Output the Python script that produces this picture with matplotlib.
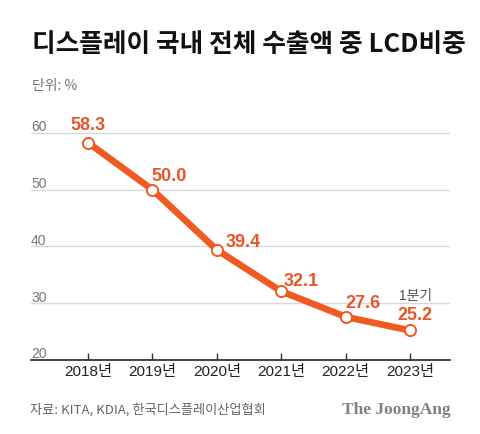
import matplotlib.pyplot as plt

plt.rcParams['font.family'] = ['Noto Sans CJK KR', 'DejaVu Sans']

years = [2018, 2019, 2020, 2021, 2022, 2023]
year_labels = ['2018년', '2019년', '2020년', '2021년', '2022년', '2023년']
lcd_share = [58.3, 50.0, 39.4, 32.1, 27.6, 25.2]
y_ticks = [20, 30, 40, 50, 60]

orange = '#F05A22'
label_color = '#E8552B'
grid_color = '#D9D9D9'
gray = '#777777'
num_font = ['Liberation Sans', 'Noto Sans CJK KR']

fig = plt.figure(figsize=(4.8, 4.35), dpi=100)
ax = fig.add_axes([31 / 480, 1 - 361 / 435, 419 / 480, (361 - 122.6) / 435])

# 격자선
for v in y_ticks[1:]:
    ax.axhline(v, color=grid_color, lw=1, zorder=1)
for v in y_ticks:
    ax.text(2017.115, v + 0.45, str(v), color=gray, fontsize=10, va='baseline', ha='left', family=num_font)

ax.plot(years, lcd_share, color=orange, lw=4.8, solid_capstyle='round', zorder=3)
ax.plot(years, lcd_share, 'o', ms=8, mfc='white', mec=orange, mew=1.4, zorder=4)

# 값 레이블 (픽셀 오프셋)
offsets = [(0, 18), (17, 14), (26, 8), (20, 11), (17, 14), (5, 16)]
for x, y, (dx, dy) in zip(years, lcd_share, offsets):
    ax.annotate(f'{y:.1f}', (x, y), xytext=(dx * 0.72, dy * 0.72), textcoords='offset points',
                ha='center', va='center', color=label_color, fontsize=13, fontweight='bold',
                family=num_font, zorder=5)
ax.annotate('1분기', (years[-1], lcd_share[-1]), xytext=(5 * 0.72, 35 * 0.72), textcoords='offset points',
            ha='center', va='center', color='#555555', fontsize=10, family=num_font)

ax.set_xlim(2017.115, 2023.62)
ax.set_ylim(20, 62)
for s in ['top', 'right', 'left']:
    ax.spines[s].set_visible(False)
ax.spines['bottom'].set_color('#222222')
ax.spines['bottom'].set_linewidth(1.2)
ax.set_yticks([])
ax.set_xticks(years)
ax.set_xticklabels(year_labels, fontsize=11, color='#222222', family=num_font)
ax.tick_params(axis='x', direction='in', length=5, width=1, color='#333333', pad=3)

fig.text(32 / 480, 1 - 45 / 435, '디스플레이 국내 전체 수출액 중 LCD비중', fontsize=18.5,
         fontweight='heavy', va='center', ha='left', color='#111111')
fig.text(32 / 480, 1 - 86 / 435, '단위: %', fontsize=10, color=gray, va='center', ha='left')
fig.text(30 / 480, 1 - 410 / 435, '자료: KITA, KDIA, 한국디스플레이산업협회', fontsize=9.5,
         color='#666666', va='center', ha='left')
fig.text(451 / 480, 1 - 410 / 435, 'The JoongAng', fontsize=12.5, fontweight='bold',
         family='Liberation Serif', color='#808080', va='center', ha='right')

fig.savefig('out.png', dpi=100, facecolor='white')
